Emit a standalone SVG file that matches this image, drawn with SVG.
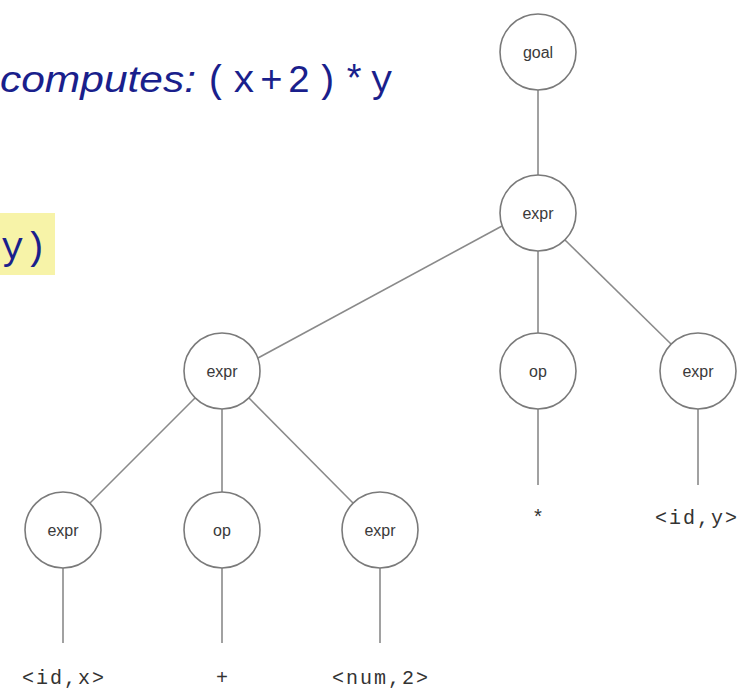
<svg xmlns="http://www.w3.org/2000/svg" width="745" height="695" viewBox="0 0 745 695">
<style>
.n circle{fill:#fff;stroke:#7a7a7a;stroke-width:1.6}
.n text{font-family:"Liberation Sans",Arial,sans-serif;font-size:16px;fill:#3a3a3a;text-anchor:middle}
.e line{stroke:#8a8a8a;stroke-width:1.6}
.leaf{font-family:"Liberation Mono","Courier New",monospace;font-size:20px;letter-spacing:2px;fill:#333;text-anchor:middle}
.blue{fill:#1a1f8c}
.mono{font-family:"Liberation Mono","Courier New",monospace;font-size:38px}
.ital{font-family:"Liberation Sans",Arial,sans-serif;font-style:italic;font-size:37px}
</style>
<rect width="745" height="695" fill="#fff"/>
<text x="0" y="92" class="blue ital" textLength="196" lengthAdjust="spacingAndGlyphs">computes:</text>
<text x="205" y="92" class="blue mono" textLength="188" lengthAdjust="spacing">(x+2)*y</text>
<rect x="0" y="213" width="55" height="62" fill="#f7f3a8"/>
<text x="1" y="259" class="blue mono" textLength="46" lengthAdjust="spacing">y)</text>
<g id="edges" class="e">
<line x1="538" y1="90" x2="538" y2="175"/>
<line x1="502" y1="226" x2="258" y2="358"/>
<line x1="538" y1="251" x2="538" y2="333"/>
<line x1="565" y1="240" x2="671" y2="344"/>
<line x1="195" y1="398" x2="90" y2="503"/>
<line x1="222" y1="409" x2="222" y2="492"/>
<line x1="249" y1="398" x2="353" y2="503"/>
<line x1="538" y1="409" x2="538" y2="485"/>
<line x1="698" y1="409" x2="698" y2="485"/>
<line x1="63" y1="568" x2="63" y2="643"/>
<line x1="222" y1="568" x2="222" y2="643"/>
<line x1="380" y1="568" x2="380" y2="643"/>
</g>
<g id="goal" class="n"><circle cx="538" cy="52" r="38"/><text x="538" y="58">goal</text></g>
<g id="expr0" class="n"><circle cx="538" cy="213" r="38"/><text x="538" y="219">expr</text></g>
<g id="expr1" class="n"><circle cx="222" cy="371" r="38"/><text x="222" y="377">expr</text></g>
<g id="op0" class="n"><circle cx="538" cy="371" r="38"/><text x="538" y="377">op</text></g>
<g id="expr2" class="n"><circle cx="698" cy="371" r="38"/><text x="698" y="377">expr</text></g>
<g id="expr3" class="n"><circle cx="63" cy="530" r="38"/><text x="63" y="536">expr</text></g>
<g id="op1" class="n"><circle cx="222" cy="530" r="38"/><text x="222" y="536">op</text></g>
<g id="expr4" class="n"><circle cx="380" cy="530" r="38"/><text x="380" y="536">expr</text></g>
<g id="leaves">
<text class="leaf" x="539" y="524">*</text>
<text class="leaf" x="697" y="524">&lt;id,y&gt;</text>
<text class="leaf" x="64" y="684">&lt;id,x&gt;</text>
<text class="leaf" x="223" y="684">+</text>
<text class="leaf" x="381" y="684">&lt;num,2&gt;</text>
</g>
</svg>
